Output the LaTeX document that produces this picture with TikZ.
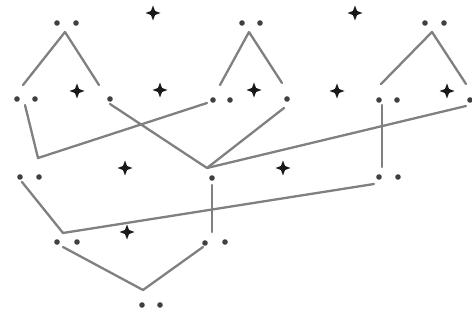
\documentclass[tikz,border=0pt]{standalone}
\usetikzlibrary{shapes.geometric}
\begin{document}
\begin{tikzpicture}[x=1pt,y=-1pt,
  dotnode/.style={circle,fill=black!75,inner sep=0pt,minimum size=5.6pt},
  starnode/.style={star,star points=4,star point ratio=2.6,fill=black!90,inner sep=0pt,minimum size=15pt},
  link/.style={draw=black!50,line width=2.3pt,line cap=round,line join=round}]
\useasboundingbox[fill=white] (0,0) rectangle (472,321);
% dots
\node[dotnode] (a1) at (57,23) {}; \node[dotnode] (a2) at (76,23) {};
\node[dotnode] (b1) at (242,23) {}; \node[dotnode] (b2) at (260,23) {};
\node[dotnode] (c1) at (425,23) {}; \node[dotnode] (c2) at (444,23) {};
\node[dotnode] (d1) at (17,99) {}; \node[dotnode] (d2) at (35,99) {};
\node[dotnode] (e) at (110,99) {};
\node[dotnode] (f1) at (213,100) {}; \node[dotnode] (f2) at (230,100) {};
\node[dotnode] (g) at (287,99) {};
\node[dotnode] (h1) at (379,100) {}; \node[dotnode] (h2) at (397,100) {};
\node[dotnode] (i) at (470,100) {};
\node[dotnode] (j1) at (20,177) {}; \node[dotnode] (j2) at (39,177) {};
\node[dotnode] (k) at (212,178) {};
\node[dotnode] (l1) at (379,177) {}; \node[dotnode] (l2) at (398,177) {};
\node[dotnode] (m1) at (57,242) {}; \node[dotnode] (m2) at (77,242) {};
\node[dotnode] (n1) at (205,243) {}; \node[dotnode] (n2) at (225,242) {};
\node[dotnode] (o1) at (142,305) {}; \node[dotnode] (o2) at (160,305) {};
% stars
\node[starnode] (s1) at (153,13) {};
\node[starnode] (s2) at (355,13) {};
\node[starnode] (s3) at (77,91) {};
\node[starnode] (s4) at (160,90) {};
\node[starnode] (s5) at (254,90) {};
\node[starnode] (s6) at (337,91) {};
\node[starnode] (s7) at (447,91) {};
\node[starnode] (s8) at (125,168) {};
\node[starnode] (s9) at (283,168) {};
\node[starnode] (s10) at (127,232) {};
% connector points
\coordinate (pA) at (65,32); \coordinate (pA1) at (23,85); \coordinate (pA2) at (99,85);
\coordinate (pB) at (249,32); \coordinate (pB1) at (220,85); \coordinate (pB2) at (282,83);
\coordinate (pC) at (432,32); \coordinate (pC1) at (381,84); \coordinate (pC2) at (466,84);
\coordinate (q1) at (25,105); \coordinate (q2) at (38,158); \coordinate (q3) at (207,103);
\coordinate (r1) at (110,104); \coordinate (r2) at (207,168); \coordinate (r3) at (284,108);
\coordinate (r4) at (466,106);
\coordinate (t1) at (382,105); \coordinate (t2) at (382,167);
\coordinate (u1) at (212,185); \coordinate (u2) at (212,232);
\coordinate (v1) at (22,182); \coordinate (v2) at (63,233); \coordinate (v3) at (374,184);
\coordinate (w1) at (63,247); \coordinate (w2) at (143,290); \coordinate (w3) at (203,247);
% connectors
\draw[link] (pA1) -- (pA) -- (pA2);
\draw[link] (pB1) -- (pB) -- (pB2);
\draw[link] (pC1) -- (pC) -- (pC2);
\draw[link] (q1) -- (q2) -- (q3);
\draw[link] (r1) -- (r2) -- (r3);
\draw[link] (r2) -- (r4);
\draw[link] (t1) -- (t2);
\draw[link] (u1) -- (u2);
\draw[link] (v1) -- (v2) -- (v3);
\draw[link] (w1) -- (w2) -- (w3);
\end{tikzpicture}
\end{document}
